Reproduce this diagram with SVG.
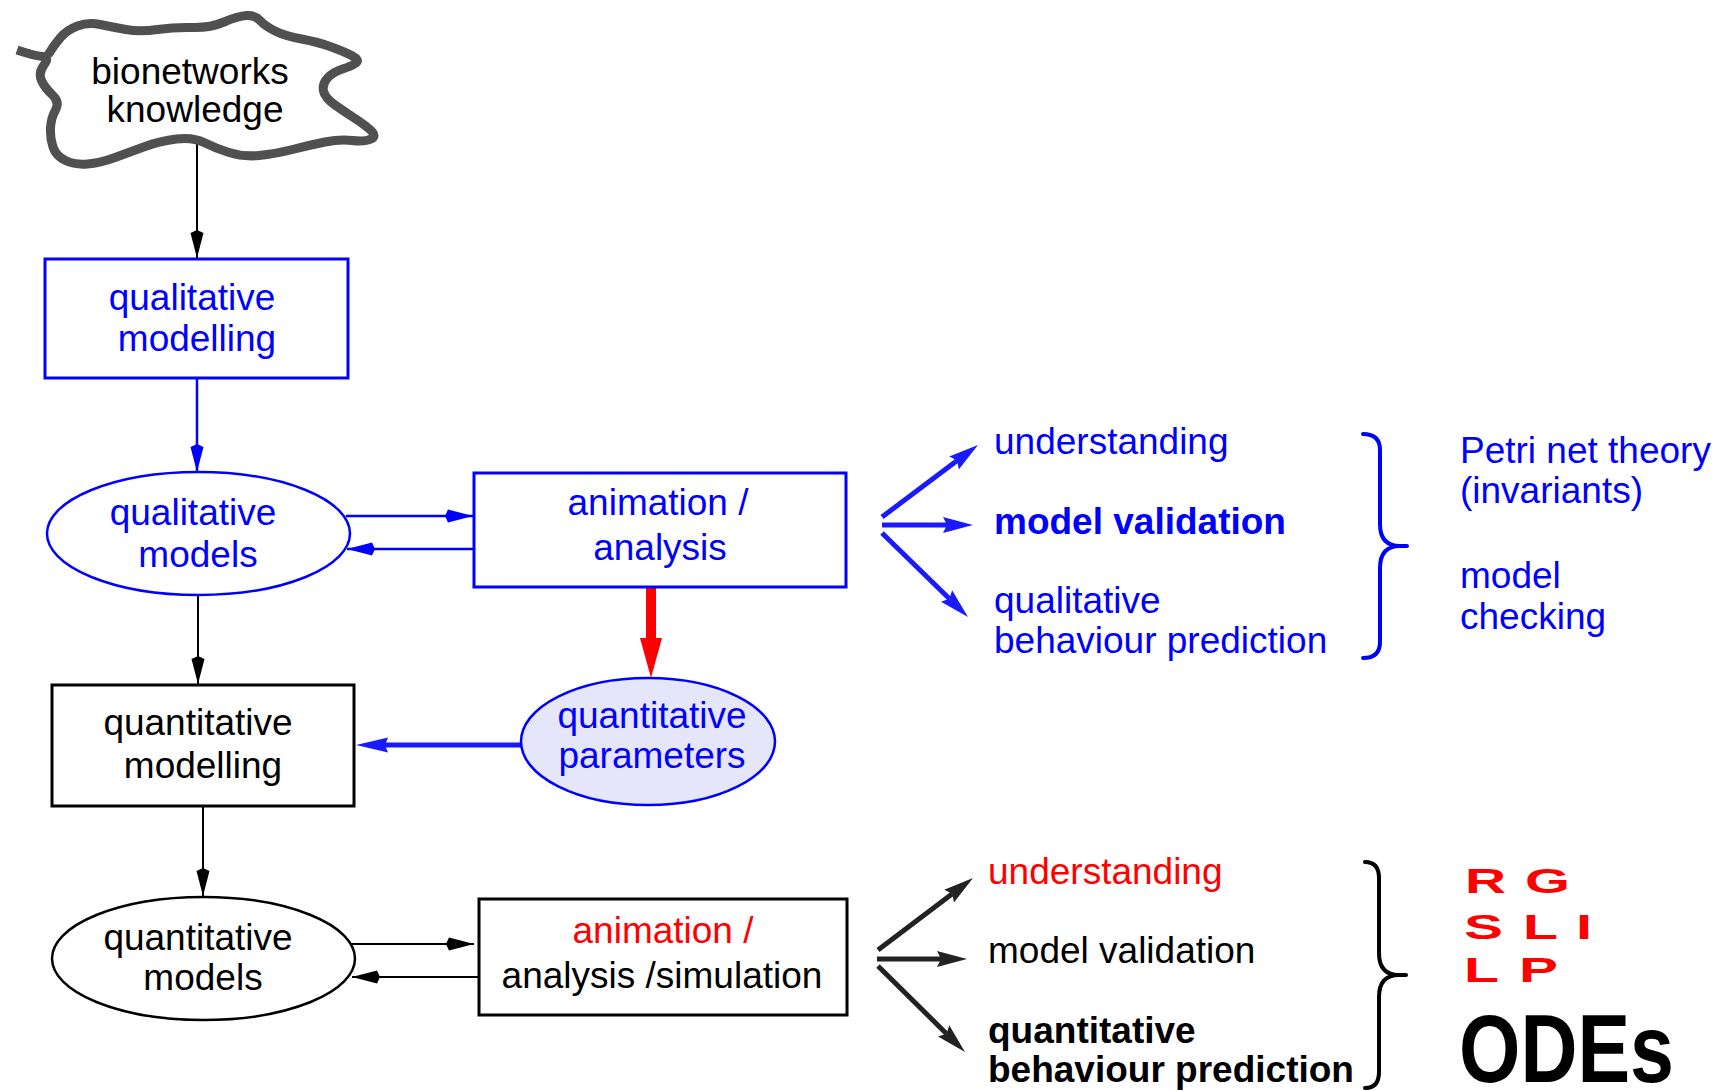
<svg xmlns="http://www.w3.org/2000/svg" width="1724" height="1091" viewBox="0 0 1724 1091">
<defs>
<style>
text{font-family:"Liberation Sans",Arial,Helvetica,sans-serif;font-size:37px}
.m{text-anchor:middle}
.bl{fill:#0000ff}
.rd{fill:#ff0000}
.k{fill:#000}
.bd{font-weight:bold}
.nb{fill:#fff;stroke:#0000ff;stroke-width:3}
.nk{fill:#fff;stroke:#000;stroke-width:3}
.eb{fill:#fff;stroke:#0000ff;stroke-width:2.5}
.ek{fill:#fff;stroke:#000;stroke-width:2.5}
.ck{stroke:#000;stroke-width:2;fill:none}
.cb{stroke:#0000ff;stroke-width:2.5;fill:none}
.fb{stroke:#1a1aff;stroke-width:5;fill:none}
.fk{stroke:#222;stroke-width:5;fill:none}
.br{fill:none;stroke-width:4;stroke-linecap:round}
.let{font-size:35px;font-weight:bold;fill:#ff0000}
</style>
<marker id="dk" markerUnits="userSpaceOnUse" markerWidth="30" markerHeight="14" refX="28" refY="7" orient="auto" overflow="visible"><path d="M0,7 L3,0.5 L28,7 L3,13.5 Z" fill="#000"/></marker>
<marker id="db" markerUnits="userSpaceOnUse" markerWidth="30" markerHeight="14" refX="28" refY="7" orient="auto" overflow="visible"><path d="M0,7 L3,0.5 L28,7 L3,13.5 Z" fill="#0000ff"/></marker>
<marker id="fhb" markerUnits="userSpaceOnUse" markerWidth="30" markerHeight="16" refX="4" refY="8" orient="auto" overflow="visible"><path d="M0,0 L30,8 L0,16 L4,8 Z" fill="#1a1aff"/></marker>
<marker id="fhk" markerUnits="userSpaceOnUse" markerWidth="30" markerHeight="16" refX="4" refY="8" orient="auto" overflow="visible"><path d="M0,0 L30,8 L0,16 L4,8 Z" fill="#222"/></marker>
<marker id="hr" markerUnits="userSpaceOnUse" markerWidth="40" markerHeight="22" refX="1" refY="11" orient="auto" overflow="visible"><path d="M0,0 L40,11 L0,22 Z" fill="#ff0000"/></marker>
<marker id="hb" markerUnits="userSpaceOnUse" markerWidth="32" markerHeight="15" refX="3" refY="7.5" orient="auto" overflow="visible"><path d="M0,0 L32,7.5 L0,15 L3,7.5 Z" fill="#1a1aff"/></marker>
</defs>
<rect width="1724" height="1091" fill="#fff"/>

<g id="connectors">
<line class="ck" x1="197" y1="142" x2="197" y2="258" marker-end="url(#dk)"/>
<line class="cb" x1="197" y1="378" x2="197" y2="472" marker-end="url(#db)"/>
<line class="cb" x1="346" y1="516" x2="473" y2="516" marker-end="url(#db)"/>
<line class="cb" x1="474" y1="549" x2="347" y2="549" marker-end="url(#db)"/>
<line class="ck" x1="198" y1="596" x2="198" y2="684" marker-end="url(#dk)"/>
<line x1="651" y1="587" x2="651" y2="639" stroke="#ff0000" stroke-width="10" marker-end="url(#hr)"/>
<line x1="525" y1="745" x2="385" y2="745" stroke="#1a1aff" stroke-width="5" marker-end="url(#hb)"/>
<line class="ck" x1="203" y1="806" x2="203" y2="896" marker-end="url(#dk)"/>
<line class="ck" x1="350" y1="944" x2="474" y2="944" marker-end="url(#dk)"/>
<line class="ck" x1="478" y1="977" x2="352" y2="977" marker-end="url(#dk)"/>
<line class="fb" x1="882" y1="517" x2="957.2" y2="460.6" marker-end="url(#fhb)"/>
<line class="fb" x1="882" y1="525" x2="947" y2="525" marker-end="url(#fhb)"/>
<line class="fb" x1="882" y1="533" x2="949.4" y2="598.8" marker-end="url(#fhb)"/>
<line class="fk" x1="878" y1="950" x2="952.3" y2="893.7" marker-end="url(#fhk)"/>
<line class="fk" x1="877" y1="959" x2="941" y2="959" marker-end="url(#fhk)"/>
<line class="fk" x1="878" y1="966" x2="946.5" y2="1033.7" marker-end="url(#fhk)"/>
</g>

<g id="bionetworks-knowledge">
<path d="M17,50 Q35,56 42.5,56.5 Q50,57 44,65 Q38,73 41.5,80.5 Q45,88 52.5,95 Q60,102 55.5,110 Q51,118 50.5,128 Q50,138 53,147 Q56,156 65.5,160.5 Q75,165 87.5,164 Q100,163 115,157.5 Q130,152 145,146.5 Q160,141 176.5,139 Q193,137 204,142.5 Q215,148 229,152.5 Q243,157 259,155.5 Q275,154 292.5,149.5 Q310,145 325,142 Q340,139 352.5,140.5 Q365,142 371,139 Q377,136 371,130.5 Q365,125 355,118.5 Q345,112 335,105 Q325,98 323.5,91 Q322,84 327.5,78 Q333,72 342.5,69 Q352,66 356,63 Q360,60 352.5,56 Q345,52 331.5,47 Q318,42 301.5,39 Q285,36 275,31 Q265,26 260,20.5 Q255,15 246.5,15.5 Q238,16 224,22 Q210,28 192.5,27.5 Q175,27 157.5,29.5 Q140,32 126,29.5 Q112,27 100,24.5 Q88,22 77.5,26 Q67,30 60.5,37.5 Q54,45 48,55" fill="none" stroke="#505050" stroke-width="9" stroke-linejoin="round"/>
<text class="m k" x="190" y="84">bionetworks</text>
<text class="m k" x="195" y="122">knowledge</text>
</g>

<g id="qualitative-modelling">
<rect class="nb" x="45" y="259" width="303" height="119"/>
<text class="m bl" x="192" y="310">qualitative</text>
<text class="m bl" x="197" y="351">modelling</text>
</g>

<g id="qualitative-models">
<ellipse class="eb" cx="198.5" cy="533.5" rx="151.5" ry="61.5"/>
<text class="m bl" x="193" y="525">qualitative</text>
<text class="m bl" x="198" y="567">models</text>
</g>

<g id="animation-analysis">
<rect class="nb" x="474" y="473" width="372" height="114"/>
<text class="m bl" x="658" y="515">animation /</text>
<text class="m bl" x="660" y="560">analysis</text>
</g>

<g id="quantitative-parameters">
<ellipse cx="648" cy="741.5" rx="127" ry="63.5" fill="#e6e6fa" stroke="#0000ff" stroke-width="2.5"/>
<text class="m bl" x="652" y="728">quantitative</text>
<text class="m bl" x="652" y="768">parameters</text>
</g>

<g id="quantitative-modelling">
<rect class="nk" x="52" y="685" width="302" height="121"/>
<text class="m k" x="198" y="735">quantitative</text>
<text class="m k" x="203" y="778">modelling</text>
</g>

<g id="quantitative-models">
<ellipse class="ek" cx="203.5" cy="958.5" rx="151.5" ry="61.5"/>
<text class="m k" x="198" y="950">quantitative</text>
<text class="m k" x="203" y="990">models</text>
</g>

<g id="animation-analysis-simulation">
<rect class="nk" x="479" y="899" width="368" height="116"/>
<text class="m rd" x="663" y="943">animation /</text>
<text class="m k" x="662" y="988">analysis /simulation</text>
</g>

<g id="qualitative-results">
<text class="bl" x="994" y="454">understanding</text>
<text class="bl bd" x="994" y="534">model validation</text>
<text class="bl" x="994" y="613">qualitative</text>
<text class="bl" x="994" y="653">behaviour prediction</text>
<path class="br" stroke="#0000ff" d="M1363,434 Q1380,434 1380,450 L1380,524 Q1380,546 1400,546 L1407,546 M1400,546 Q1380,546 1380,568 L1380,642 Q1380,658 1363,658"/>
<text class="bl" x="1460" y="463">Petri net theory</text>
<text class="bl" x="1460" y="503">(invariants)</text>
<text class="bl" x="1460" y="588">model</text>
<text class="bl" x="1460" y="629">checking</text>
</g>

<g id="quantitative-results">
<text class="rd" x="988" y="884">understanding</text>
<text class="k" x="988" y="963">model validation</text>
<text class="k bd" x="988" y="1043">quantitative</text>
<text class="k bd" x="988" y="1082">behaviour prediction</text>
<path class="br" stroke="#000" d="M1365,862 Q1379,862 1379,878 L1379,953 Q1379,975 1399,975 L1406,975 M1399,975 Q1379,975 1379,997 L1379,1072 Q1379,1088 1365,1088"/>
<text class="let" x="1465" y="893" textLength="41" lengthAdjust="spacingAndGlyphs">R</text>
<text class="let" x="1525" y="893" textLength="45" lengthAdjust="spacingAndGlyphs">G</text>
<text class="let" x="1464" y="939" textLength="39" lengthAdjust="spacingAndGlyphs">S</text>
<text class="let" x="1523" y="939" textLength="35" lengthAdjust="spacingAndGlyphs">L</text>
<text class="let" x="1576" y="939" textLength="16" lengthAdjust="spacingAndGlyphs">I</text>
<text class="let" x="1464" y="982" textLength="35" lengthAdjust="spacingAndGlyphs">L</text>
<text class="let" x="1519" y="982" textLength="39" lengthAdjust="spacingAndGlyphs">P</text>
<text class="k bd" x="1459" y="1082" style="font-size:96px" textLength="215" lengthAdjust="spacingAndGlyphs">ODEs</text>
</g>
</svg>
